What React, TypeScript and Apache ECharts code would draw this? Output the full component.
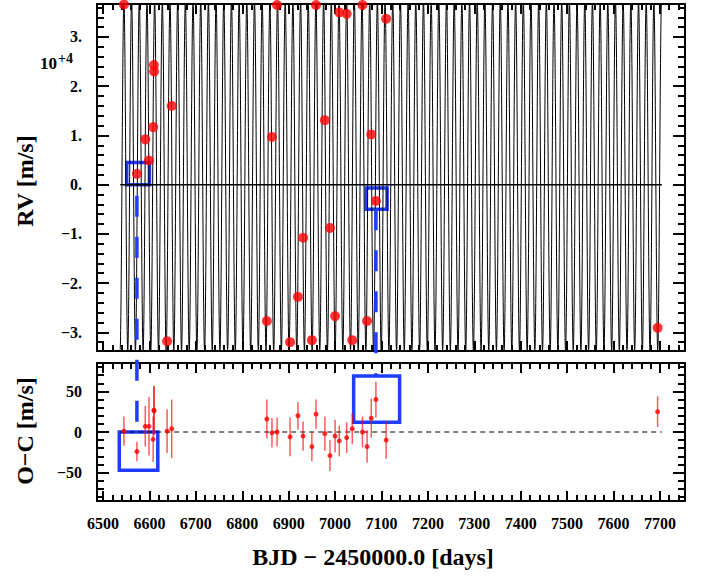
import React, { useEffect, useRef } from "react";
import * as echarts from "echarts";

// Observation epochs (BJD - 2450000.0)
const bjd = [6545, 6573, 6591, 6599, 6608, 6609.5, 6610, 6638, 6648, 6853, 6864, 6875, 6903, 6920, 6931, 6950, 6959, 6978, 6989, 7000, 7009, 7025, 7037, 7059, 7069, 7078, 7088, 7110, 7695];
// Radial velocities [m/s]
const rv = [36600, 2200, 9200, 4900, 11700, 24300, 23000, -31800, 16000, -27700, 9700, 36500, -32000, -22800, -10800, -31600, 36500, 13100, -8800, -26700, 35000, 34700, -31600, 36500, -27700, 10200, -3300, 33700, -29100];
// Residuals O-C [m/s] and their errors
const oc = [1, -24, 7, 7, -9, 27, 26, 1, 4, 16, -1, 0, -6, 20, -5, -18, 22, -2, -29, -5, -11, -7, 4, 0, -18, 17, 40, -10, 25];
const ocErr = [18, 12, 25, 36, 28, 30, 30, 27, 36, 24, 18, 18, 24, 17, 18, 18, 18, 21, 19, 20, 19, 19, 19, 19, 20, 24, 22, 23, 19];

// Orbit model parameters
const modelPeriod = 16.55; // days
const modelK = 35500; // m/s
const modelGamma = 1800; // m/s
const modelT0 = 6545;
const modelRange = [6537, 7704];

// Highlight boxes [x1, y1, x2, y2]
const rvBoxes = [[6551, 0, 6600, 4500], [7067, -5000, 7112, -700]];
const ocBoxes = [[6535, -47, 6618, 0], [7040, 12, 7139, 69]];
// connectors: x, top-panel y (box bottom), bottom-panel y (box top)
const connectors = [[6573, 0, 0], [7088, -5000, 69]];

const xRange = [6487, 7754];
const rvRange = [-33800, 36700];
const ocRange = [-85, 85];

const FONT = '"Liberation Serif", "Times New Roman", serif';
const BLUE = "#1f3dff";

function buildModel() {
  const pts: number[][] = [];
  for (let t = modelRange[0]; t <= modelRange[1]; t += 0.2) {
    pts.push([t, modelGamma + modelK * Math.cos((2 * Math.PI * (t - modelT0)) / modelPeriod)]);
  }
  return pts;
}

const tickStyle = (len: number) => ({ show: true, inside: true, length: len, lineStyle: { color: "#000", width: 2 } });

const axisBase = (extra: any) => ({
  type: "value",
  axisLine: { show: true, onZero: false, lineStyle: { color: "#000", width: 2 } },
  axisTick: tickStyle(12),
  minorTick: { show: true, splitNumber: 5, length: 7, lineStyle: { color: "#000", width: 2 } },
  splitLine: { show: false },
  axisLabel: { show: false },
  ...extra,
});

const labelStyle = (extra: any) => ({
  show: true,
  fontFamily: FONT,
  fontWeight: "bold",
  fontSize: 16,
  color: "#000",
  showMinLabel: false,
  showMaxLabel: false,
  ...extra,
});

export default function App() {
  const ref = useRef<HTMLDivElement>(null);
  useEffect(() => {
    if (!ref.current) return;
    const chart = echarts.init(ref.current, undefined, { renderer: "svg" });
    const xCommon = { min: xRange[0], max: xRange[1], splitNumber: 13, axisTick: tickStyle(10), minorTick: { show: true, splitNumber: 5, length: 6, lineStyle: { color: "#000", width: 2 } } };
    const option: any = {
      animation: false,
      backgroundColor: "#fff",
      grid: [
        { left: 97, top: 4, width: 588, height: 347 },
        { left: 97, top: 363, width: 588, height: 138 },
      ],
      xAxis: [
        axisBase({ gridIndex: 0, position: "bottom", ...xCommon }),
        axisBase({ gridIndex: 0, position: "top", ...xCommon }),
        axisBase({
          gridIndex: 1, position: "bottom", ...xCommon,
          axisLabel: labelStyle({ margin: 14, formatter: (v: number) => String(v) }),
        }),
        axisBase({ gridIndex: 1, position: "top", ...xCommon }),
      ],
      yAxis: [
        axisBase({
          gridIndex: 0, position: "left", min: rvRange[0], max: rvRange[1], splitNumber: 7,
          axisLabel: labelStyle({
            margin: 15,
            formatter: (v: number) => {
              const u = Math.round(v / 10000);
              return (u < 0 ? "\u2212" : "") + Math.abs(u) + ".";
            },
          }),
        }),
        axisBase({ gridIndex: 0, position: "right", min: rvRange[0], max: rvRange[1], splitNumber: 7 }),
        axisBase({
          gridIndex: 1, position: "left", min: ocRange[0], max: ocRange[1], splitNumber: 3,
          axisLabel: labelStyle({
            margin: 15,
            formatter: (v: number) => (v < 0 ? "\u2212" : "") + Math.abs(v),
          }),
        }),
        axisBase({ gridIndex: 1, position: "right", min: ocRange[0], max: ocRange[1], splitNumber: 3 }),
      ],
      series: [
        {
          type: "line",
          xAxisIndex: 0,
          yAxisIndex: 0,
          data: buildModel(),
          showSymbol: false,
          symbol: "none",
          silent: true,
          lineStyle: { color: "#000", width: 1 },
          z: 1,
        },
        {
          type: "line",
          xAxisIndex: 0,
          yAxisIndex: 0,
          data: [[modelRange[0], 0], [modelRange[1], 0]],
          symbol: "none",
          silent: true,
          lineStyle: { color: "#000", width: 1.5 },
          z: 2,
        },
        {
          type: "scatter",
          xAxisIndex: 0,
          yAxisIndex: 0,
          data: bjd.map((t, i) => [t, rv[i]]),
          symbol: "circle",
          symbolSize: 10,
          itemStyle: { color: "#ff0000" },
          silent: true,
          z: 3,
          markArea: {
            silent: true,
            itemStyle: { color: "rgba(0,0,0,0)", borderColor: BLUE, borderWidth: 3.5 },
            data: rvBoxes.map((b) => [{ coord: [b[0], b[1]] }, { coord: [b[2], b[3]] }]),
          },
        },
        {
          type: "line",
          xAxisIndex: 2,
          yAxisIndex: 2,
          data: [[modelRange[0], 0], [modelRange[1], 0]],
          symbol: "none",
          silent: true,
          lineStyle: { color: "#000", width: 1, type: [5, 4] },
          z: 1,
        },
        {
          type: "custom",
          xAxisIndex: 2,
          yAxisIndex: 2,
          silent: true,
          encode: { x: 0, y: [1, 2] },
          data: bjd.map((t, i) => [t, oc[i] - ocErr[i], oc[i] + ocErr[i]]),
          renderItem: (params: any, api: any) => {
            const p1 = api.coord([api.value(0), api.value(1)]);
            const p2 = api.coord([api.value(0), api.value(2)]);
            return {
              type: "line",
              shape: { x1: p1[0], y1: p1[1], x2: p2[0], y2: p2[1] },
              style: { stroke: "rgba(255,0,0,0.65)", lineWidth: 1.5 },
            };
          },
          z: 2,
        },
        {
          type: "scatter",
          xAxisIndex: 2,
          yAxisIndex: 2,
          data: bjd.map((t, i) => [t, oc[i]]),
          symbol: "circle",
          symbolSize: 5,
          itemStyle: { color: "#ff0000" },
          silent: true,
          z: 3,
          markArea: {
            silent: true,
            itemStyle: { color: "rgba(0,0,0,0)", borderColor: BLUE, borderWidth: 3.5 },
            data: ocBoxes.map((b) => [{ coord: [b[0], b[1]] }, { coord: [b[2], b[3]] }]),
          },
        },
      ],
    };
    chart.setOption(option);

    const graphics: any[] = [
      {
        type: "text",
        x: 25,
        y: 181,
        rotation: Math.PI / 2,
        style: { text: "RV [m/s]", font: `bold 24px ${FONT}`, fill: "#000", align: "center", verticalAlign: "middle" },
      },
      {
        type: "text",
        x: 25,
        y: 431,
        rotation: Math.PI / 2,
        style: { text: "O\u2212C [m/s]", font: `bold 24px ${FONT}`, fill: "#000", align: "center", verticalAlign: "middle" },
      },
      {
        type: "text",
        x: 373,
        y: 557,
        style: { text: "BJD \u2212 2450000.0 [days]", font: `bold 24px ${FONT}`, fill: "#000", align: "center", verticalAlign: "middle" },
      },
      {
        type: "text",
        x: 40,
        y: 63,
        style: { text: "10", font: `bold 17px ${FONT}`, fill: "#000", align: "left", verticalAlign: "middle" },
      },
      {
        type: "text",
        x: 58,
        y: 58,
        style: { text: "+4", font: `bold 14px ${FONT}`, fill: "#000", align: "left", verticalAlign: "middle" },
      },
    ];
    connectors.forEach((c, i) => {
      const p1 = chart.convertToPixel({ xAxisIndex: 0, yAxisIndex: 0 }, [c[0], c[1]]) as number[];
      const p2 = chart.convertToPixel({ xAxisIndex: 2, yAxisIndex: 2 }, [c[0], c[2]]) as number[];
      graphics.push({
        type: "line",
        shape: { x1: p1[0], y1: p1[1], x2: p2[0], y2: p2[1] },
        style: { stroke: BLUE, lineWidth: 3.5, lineDash: [21, 20], lineDashOffset: i === 0 ? 30 : 0 },
        z: 10,
        silent: true,
      });
    });
    chart.setOption({ graphic: graphics });

    return () => chart.dispose();
  }, []);
  return <div ref={ref} style={{ position: "absolute", left: 0, top: 0, width: 707, height: 576, background: "#fff" }} />;
}
